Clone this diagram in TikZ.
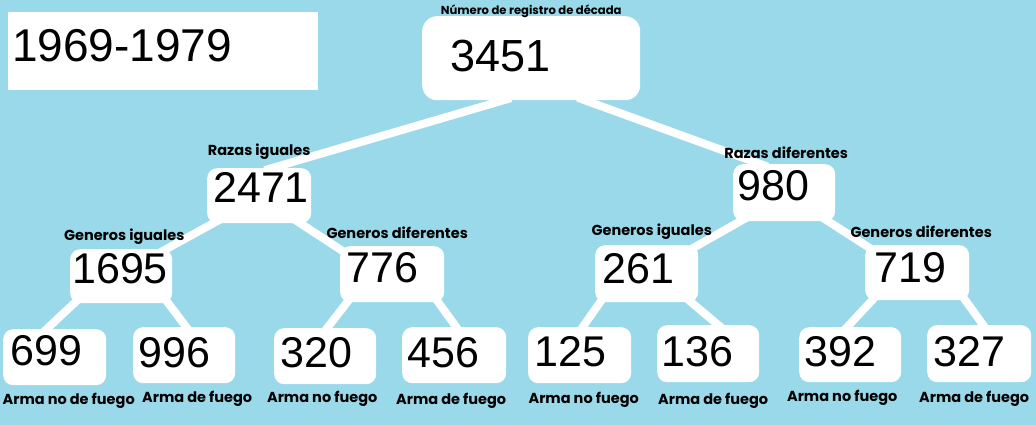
\documentclass[tikz,border=0pt]{standalone}
\usepackage{fontspec}
\setmainfont{Liberation Sans}
\newfontfamily\tagfamily{Poppins}
\definecolor{skyblue}{RGB}{153,217,234}
\pgfdeclarelayer{backdrop}
\pgfdeclarelayer{branches}
\pgfsetlayers{backdrop,branches,main}
\tikzset{
  numbox/.style={fill=white, rounded corners=10pt, inner sep=0pt, anchor=north west,
    minimum width=103pt, minimum height=56pt},
  numtext/.style={font=\fontsize{43}{43}\selectfont, anchor=base west, inner sep=0pt},
  bignum/.style={numtext, font=\fontsize{45}{45}\selectfont},
  tag/.style={font=\tagfamily\bfseries\fontsize{14.5}{14.5}\selectfont, anchor=base, inner sep=0pt},
  branch/.style={draw=white, line width=8pt, shorten <=-8pt, shorten >=-8pt},
}

\begin{document}
\begin{tikzpicture}[x=1pt,y=-1pt]
\useasboundingbox (0,0) rectangle (1036,425);
\begin{pgfonlayer}{backdrop}
\fill[skyblue] (0,0) rectangle (1036,425);
\end{pgfonlayer}

% decade box
\node[numbox, rounded corners=0pt, minimum width=310pt, minimum height=78pt] (decade) at (8,12) {};
\node[bignum, font=\fontsize{46}{46}\selectfont] (tdecade) at ([xshift=4pt,yshift=-50pt]decade.north west) {1969-1979};

% root
\node[numbox, rounded corners=15pt, minimum width=218pt, minimum height=84pt] (root) at (422,16) {};
\node[bignum] (t3451) at ([xshift=28pt,yshift=-56pt]root.north west) {3451};
\node[tag, font=\tagfamily\bfseries\fontsize{11.6}{11.6}\selectfont] (lroot) at ([yshift=1pt]root.north) {Número de registro de década};

% races
\node[numbox, minimum width=104pt, minimum height=55pt] (n2471) at (207,168) {};
\node[numtext] (t2471) at ([xshift=6pt,yshift=-34pt]n2471.north west) {2471};
\node[tag] (l2471) at ([yshift=13pt]n2471.north) {Razas iguales};

\node[numbox, minimum width=102pt, minimum height=57pt] (n980) at (733,164) {};
\node[numtext] (t980) at ([xshift=4pt,yshift=-36pt]n980.north west) {980};
\node[tag] (l980) at ([xshift=2pt,yshift=6pt]n980.north) {Razas diferentes};

% genders
\node[numbox, minimum width=102pt, minimum height=54pt] (n1695) at (70,249) {};
\node[numtext] (t1695) at ([xshift=2pt,yshift=-34pt]n1695.north west) {1695};
\node[tag] (l1695) at ([xshift=3pt,yshift=9pt]n1695.north) {Generos iguales};

\node[numbox, minimum width=104pt, minimum height=56pt] (n776) at (340,246) {};
\node[numtext] (t776) at ([xshift=6pt,yshift=-36pt]n776.north west) {776};
\node[tag] (l776) at ([xshift=5pt,yshift=8pt]n776.north) {Generos diferentes};

\node[numbox, minimum width=103pt, minimum height=57pt] (n261) at (595,245) {};
\node[numtext] (t261) at ([xshift=7pt,yshift=-38pt]n261.north west) {261};
\node[tag] (l261) at ([xshift=5pt,yshift=10pt]n261.north) {Generos iguales};

\node[numbox, minimum width=104pt, minimum height=55pt] (n719) at (865,245) {};
\node[numtext] (t719) at ([xshift=9pt,yshift=-37pt]n719.north west) {719};
\node[tag] (l719) at ([xshift=4pt,yshift=8pt]n719.north) {Generos diferentes};

% weapons
\node[numbox] (n699) at (3,329) {};
\node[numtext] (t699) at ([xshift=7pt,yshift=-36pt]n699.north west) {699};
\node[tag] (l699) at ([xshift=14pt,yshift=-19pt]n699.south) {Arma no de fuego};

\node[numbox, minimum width=102pt] (n996) at (133,327) {};
\node[numtext] (t996) at ([xshift=5pt,yshift=-40pt]n996.north west) {996};
\node[tag] (l996) at ([xshift=13pt,yshift=-19pt]n996.south) {Arma de fuego};

\node[numbox, minimum width=102pt] (n320) at (274,328) {};
\node[numtext] (t320) at ([xshift=6pt,yshift=-39pt]n320.north west) {320};
\node[tag] (l320) at ([xshift=-3pt,yshift=-18pt]n320.south) {Arma no fuego};

\node[numbox, minimum width=104pt] (n456) at (402,327) {};
\node[numtext] (t456) at ([xshift=5pt,yshift=-40pt]n456.north west) {456};
\node[tag] (l456) at ([xshift=-3pt,yshift=-21pt]n456.south) {Arma de fuego};

\node[numbox] (n125) at (528,327) {};
\node[numtext] (t125) at ([xshift=6pt,yshift=-39pt]n125.north west) {125};
\node[tag] (l125) at ([xshift=4pt,yshift=-20pt]n125.south) {Arma no fuego};

\node[numbox, minimum width=102pt, minimum height=57pt] (n136) at (657,325) {};
\node[numtext] (t136) at ([xshift=4pt,yshift=-41pt]n136.north west) {136};
\node[tag] (l136) at ([xshift=5pt,yshift=-22pt]n136.south) {Arma de fuego};

\node[numbox, minimum width=102pt, minimum height=55pt] (n392) at (799,327) {};
\node[numtext] (t392) at ([xshift=5pt,yshift=-39pt]n392.north west) {392};
\node[tag] (l392) at ([xshift=-8pt,yshift=-19pt]n392.south) {Arma no fuego};

\node[numbox, minimum width=104pt, minimum height=57pt] (n327) at (927,325) {};
\node[numtext] (t327) at ([xshift=6pt,yshift=-41pt]n327.north west) {327};
\node[tag] (l327) at ([xshift=-5pt,yshift=-20pt]n327.south) {Arma de fuego};

% branches
\begin{pgfonlayer}{branches}
\draw[branch] ([xshift=-28pt]root.south) -- ([xshift=13pt]n2471.north);
\draw[branch] ([xshift=54pt]root.south) -- ([xshift=-24pt]n980.north);
\draw[branch] ([xshift=6pt]n2471.south west) -- ([xshift=-6pt]n1695.north east);
\draw[branch] ([xshift=-11pt]n2471.south east) -- ([xshift=-2pt,yshift=-2pt]n776.north west);
\draw[branch] ([xshift=7pt]n980.south west) -- (n261.north east);
\draw[branch] ([xshift=-7pt]n980.south east) -- (n719.north west);
\draw[branch] ([xshift=4pt]n1695.south west) -- ([xshift=-8pt]n699.north);
\draw[branch] ([xshift=-4pt]n1695.south east) -- ([xshift=2pt]n996.north);
\draw[branch] ([xshift=7pt]n776.south west) -- ([xshift=2pt]n320.north);
\draw[branch] ([xshift=-6pt]n776.south east) -- ([xshift=2pt]n456.north);
\draw[branch] ([xshift=5pt]n261.south west) -- ([xshift=3pt]n125.north);
\draw[branch] ([xshift=-7pt]n261.south east) -- ([xshift=10pt]n136.north);
\draw[branch] ([xshift=7pt]n719.south west) -- ([xshift=-3pt]n392.north);
\draw[branch] ([xshift=-4pt]n719.south east) -- ([xshift=4pt]n327.north);
\end{pgfonlayer}
\end{tikzpicture}
\end{document}
